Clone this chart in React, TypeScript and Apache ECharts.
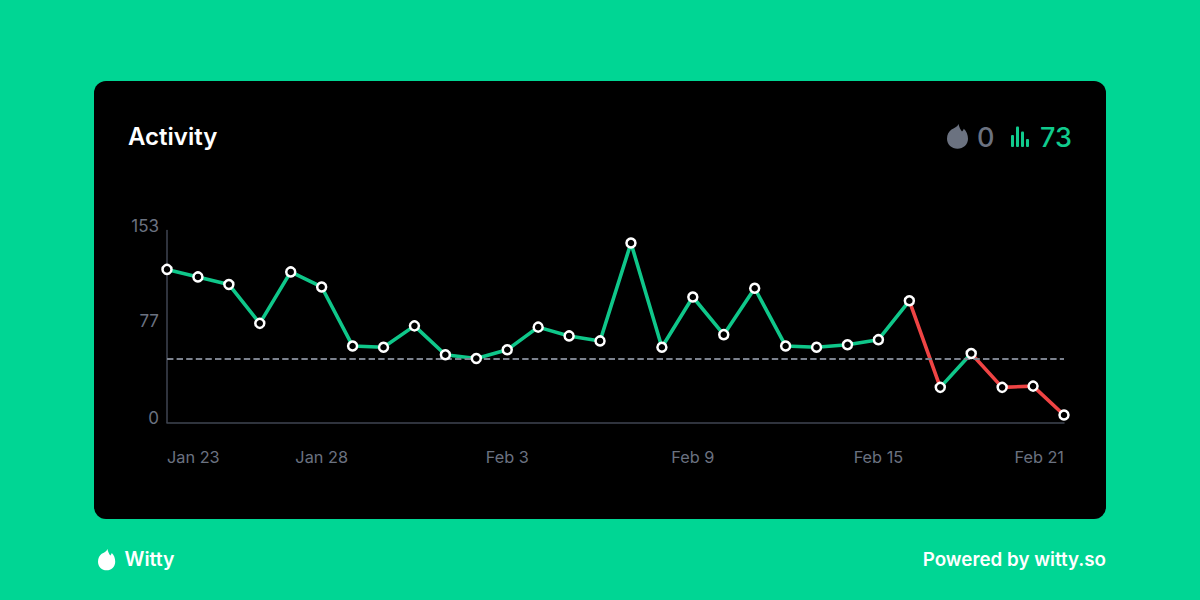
import { useEffect, useRef } from 'react';
import * as echarts from 'echarts';

const FONT = 'Inter, "Noto Sans", sans-serif';
const GREEN = '#10cb8d';
const LINE_GREEN = '#0fc78a';
const RED = '#ef4444';
const AXIS_COLOR = '#3f4552';
const LABEL_COLOR = '#6b7280';

const dates = [
  'Jan 23', 'Jan 24', 'Jan 25', 'Jan 26', 'Jan 27', 'Jan 28', 'Jan 29', 'Jan 30', 'Jan 31', 'Feb 1',
  'Feb 2', 'Feb 3', 'Feb 4', 'Feb 5', 'Feb 6', 'Feb 7', 'Feb 8', 'Feb 9', 'Feb 10', 'Feb 11',
  'Feb 12', 'Feb 13', 'Feb 14', 'Feb 15', 'Feb 16', 'Feb 17', 'Feb 18', 'Feb 19', 'Feb 20', 'Feb 21',
];
const activity = [
  122, 116, 110, 79, 120, 108, 61, 60, 77, 54,
  51, 58, 76, 69, 65, 143, 60, 100, 70, 107,
  61, 60, 62, 66, 97, 28, 55, 28, 29, 6,
];
const averageLine = 50.5;
const shownDates = ['Jan 23', 'Jan 28', 'Feb 3', 'Feb 9', 'Feb 15', 'Feb 21'];
const yTicks = [0, 77, 153];

const FLAME =
  'M11.5 0C12 3 13.5 6 15 8C15.9 7.2 16.5 6.2 16.8 5C19.5 7.5 21 11.5 21 15.5C21 21.5 16.3 26 10.5 26C4.7 26 0 21.5 0 15.5C0 11 1.8 8 4.5 5.8C7 4.5 10.5 3 11.5 0Z';
echarts.graphic.registerShape('flame', echarts.graphic.extendPath(FLAME, {}) as any);

// A segment is red when it ends under the average, green otherwise
function segmentSeries() {
  return activity.slice(1).map((v, i) => ({
    type: 'line',
    data: activity.map((a, k) => (k === i || k === i + 1 ? a : null)),
    showSymbol: false,
    silent: true,
    z: 3,
    lineStyle: { color: v < averageLine ? RED : LINE_GREEN, width: 3.6, cap: 'round' },
  }));
}

export default function App() {
  const chartRef = useRef<HTMLDivElement>(null);

  useEffect(() => {
    if (!chartRef.current) return;
    document.body.style.margin = '0';
    const chart = echarts.init(chartRef.current, null, { renderer: 'svg' });

    const option: any = {
      animation: false,
      backgroundColor: '#00d694',
      textStyle: { fontFamily: FONT },
      grid: { left: 167, right: 136, top: 230.5, bottom: 177.5 },
      xAxis: {
        type: 'category',
        data: dates,
        boundaryGap: false,
        axisTick: { show: false },
        axisLine: { lineStyle: { color: AXIS_COLOR, width: 1.5 } },
        axisLabel: {
          color: LABEL_COLOR,
          fontFamily: FONT,
          fontSize: 16.3,
          margin: 26,
          interval: (i: number) => shownDates.includes(dates[i]),
          alignMinLabel: 'left',
          alignMaxLabel: 'right',
        },
      },
      yAxis: {
        type: 'value',
        min: 0,
        max: 153,
        splitLine: { show: false },
        axisTick: { show: false },
        axisLine: { show: true, lineStyle: { color: AXIS_COLOR, width: 1.5 } },
        axisLabel: {
          margin: 8,
          customValues: yTicks,
          formatter: '{v|{value}}',
          rich: {
            v: { color: LABEL_COLOR, fontFamily: FONT, fontSize: 17, padding: [0, 0, 10, 0] },
          },
        },
      },
      series: [
        ...segmentSeries(),
        {
          type: 'line',
          data: activity,
          showSymbol: true,
          showAllSymbol: true,
          symbol: 'circle',
          symbolSize: 9,
          z: 5,
          lineStyle: { width: 0, opacity: 0 },
          itemStyle: { color: '#000000', borderColor: '#ffffff', borderWidth: 2.5, opacity: 1 },
          markLine: {
            silent: true,
            symbol: 'none',
            label: { show: false },
            lineStyle: { color: '#7c828e', type: [6.4, 3.2], width: 2.2 },
            data: [{ yAxis: averageLine }],
          },
        },
      ],
      graphic: [
        {
          type: 'rect',
          z: -10,
          shape: { x: 94, y: 81, width: 1012, height: 438, r: 12 },
          style: { fill: '#000000' },
        },
        {
          type: 'text',
          x: 128,
          y: 136,
          style: { text: 'Activity', fill: '#ffffff', font: `600 24px ${FONT}`, textVerticalAlign: 'middle' },
        },
        { type: 'flame', x: 947, y: 124, scaleY: 0.95, style: { fill: '#6b7280' } },
        {
          type: 'text',
          x: 977,
          y: 137,
          style: { text: '0', fill: '#6b7280', font: `500 27px ${FONT}`, textVerticalAlign: 'middle' },
        },
        ...[
          [1011, 135, 12],
          [1016, 126.5, 20.5],
          [1021, 131.5, 15.5],
          [1026, 139, 8],
        ].map(([x, y, h]) => ({
          type: 'rect',
          shape: { x, y, width: 3, height: h, r: 1 },
          style: { fill: GREEN },
        })),
        {
          type: 'text',
          x: 1040,
          y: 137,
          style: { text: '73', fill: GREEN, font: `500 27px ${FONT}`, textVerticalAlign: 'middle' },
        },
        { type: 'flame', x: 98, y: 549, scaleX: 0.82, scaleY: 0.82, style: { fill: '#ffffff' } },
        {
          type: 'text',
          x: 124.5,
          y: 559,
          style: { text: 'Witty', fill: '#ffffff', font: `600 19.5px ${FONT}`, textVerticalAlign: 'middle' },
        },
        {
          type: 'text',
          x: 1106,
          y: 559,
          style: {
            text: 'Powered by witty.so',
            fill: '#ffffff',
            font: `600 18.8px ${FONT}`,
            textAlign: 'right',
            textVerticalAlign: 'middle',
          },
        },
      ],
    };

    chart.setOption(option);

    return () => {
      chart.dispose();
    };
  }, []);

  return <div ref={chartRef} style={{ position: 'absolute', left: 0, top: 0, width: 1200, height: 600 }} />;
}
